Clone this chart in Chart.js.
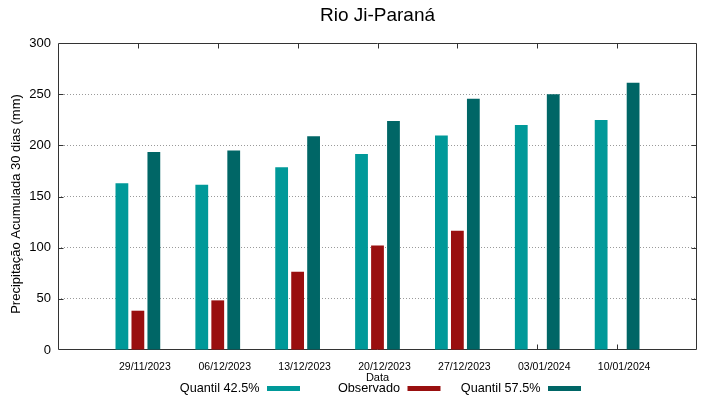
<!DOCTYPE html>
<html>
<head>
<meta charset="utf-8">
<script src="https://cdn.jsdelivr.net/npm/chart.js@4.4.1/dist/chart.umd.min.js"></script>
<style>
html,body{margin:0;padding:0;background:#fff;}
#wrap{width:719px;height:399px;position:relative;}
</style>
</head>
<body>
<div id="wrap"><canvas id="c" width="719" height="399"></canvas></div>
<script>
// ---- data ----
const chartTitle = 'Rio Ji-Paraná';
const yAxisTitle = 'Precipitação Acumulada 30 dias (mm)';
const xAxisTitle = 'Data';
const categories = ['29/11/2023', '06/12/2023', '13/12/2023', '20/12/2023', '27/12/2023', '03/01/2024', '10/01/2024'];
const seriesNames = ['Quantil 42.5%', 'Observado', 'Quantil 57.5%'];
const quantil425 = [163, 161.4, 178.6, 191.6, 209.5, 219.9, 224.8];
const observado = [38.4, 48.5, 76.4, 102.1, 116.5, null, null];
const quantil575 = [193.6, 194.9, 208.8, 223.8, 245.6, 249.8, 261.2];
const yTickValues = [0, 50, 100, 150, 200, 250, 300];
const seriesColors = ['#009999', '#990f0f', '#006666'];

// ---- styling ----
const FONT = "'Liberation Sans', Arial, sans-serif";
const FRAME = '#333333';

// padded category list so the 7 dates sit at positions 1..7 of an 8-unit-wide axis
const labels = [''].concat(categories, ['']);
const pad = arr => [null].concat(arr, [null]);
const allSeries = [quantil425, observado, quantil575];

const frameAndTicks = {
  id: 'frameAndTicks',
  beforeDatasetsDraw(chart) {
    const {ctx, chartArea, scales} = chart;
    const L = Math.round(chartArea.left) + 0.5, R = Math.round(chartArea.right) - 0.5;
    const T = Math.round(chartArea.top) + 0.5, B = Math.round(chartArea.bottom) - 0.5;
    ctx.save();
    ctx.strokeStyle = FRAME;
    ctx.lineWidth = 1;
    ctx.beginPath();
    ctx.rect(L, T, R - L, B - T);
    ctx.stroke();
    const tl = 5;
    ctx.beginPath();
    scales.y.ticks.forEach(t => {
      if (t.value <= scales.y.min || t.value >= scales.y.max) return;
      const py = Math.round(scales.y.getPixelForValue(t.value)) + 0.5;
      ctx.moveTo(L, py); ctx.lineTo(L + tl, py);
      ctx.moveTo(R, py); ctx.lineTo(R - tl, py);
    });
    scales.x.ticks.forEach((t, i) => {
      if (labels[i] === '') return;
      const px = Math.round(scales.x.getPixelForTick(i)) + 0.5;
      ctx.moveTo(px, T); ctx.lineTo(px, T + tl);
      ctx.moveTo(px, B); ctx.lineTo(px, B - tl);
    });
    ctx.stroke();
    ctx.restore();
  },
  afterDraw(chart) {
    const {ctx, chartArea} = chart;
    ctx.save();
    // y axis title
    ctx.fillStyle = '#000';
    ctx.font = '13px ' + FONT;
    ctx.textAlign = 'center';
    ctx.textBaseline = 'middle';
    ctx.translate(16, (chartArea.top + chartArea.bottom) / 2 + 7.5);
    ctx.rotate(-Math.PI / 2);
    ctx.fillText(yAxisTitle, 0, 0);
    ctx.restore();
    // legend (text followed by a line sample, gnuplot style)
    ctx.save();
    ctx.font = '12.7px ' + FONT;
    ctx.textAlign = 'right';
    ctx.textBaseline = 'middle';
    const textRight = [259.5, 400, 540.5];
    const ly = 388;
    seriesNames.forEach((name, i) => {
      ctx.fillStyle = '#000';
      ctx.fillText(name, textRight[i], ly);
      ctx.fillStyle = seriesColors[i];
      ctx.fillRect(textRight[i] + 7.5, ly - 2, 33, 5);
    });
    ctx.restore();
  }
};

new Chart(document.getElementById('c'), {
  type: 'bar',
  data: {
    labels: labels,
    datasets: allSeries.map((s, i) => ({
      label: seriesNames[i],
      data: pad(s),
      backgroundColor: seriesColors[i],
      borderWidth: 0,
      categoryPercentage: 0.6,
      barPercentage: 0.8
    }))
  },
  options: {
    responsive: false,
    animation: false,
    devicePixelRatio: 1,
    layout: { padding: { left: 0, right: 22, top: 0, bottom: 0 } },
    plugins: {
      legend: { display: false },
      tooltip: { enabled: false },
      title: {
        display: true,
        text: chartTitle,
        fullSize: false,
        color: '#000',
        font: { family: FONT, size: 19, weight: 'normal' },
        padding: { top: 4, bottom: 16.2 }
      }
    },
    scales: {
      x: {
        type: 'category',
        offset: false,
        afterFit: s => { s.height = 49; },
        grid: { display: false, drawTicks: false },
        border: { display: false },
        ticks: {
          autoSkip: false, maxRotation: 0, minRotation: 0,
          labelOffset: 7, padding: 10.5,
          color: '#000',
          font: { family: FONT, size: 10.5 }
        },
        title: {
          display: true, text: xAxisTitle, color: '#000',
          font: { family: FONT, size: 11 },
          padding: { top: 0, bottom: 14.5 }
        }
      },
      y: {
        min: 0, max: 300,
        afterBuildTicks: s => { s.ticks = yTickValues.map(v => ({ value: v })); },
        afterFit: s => { s.width = 58; },
        grid: {
          drawTicks: false,
          color: c => (c.tick && (c.tick.value === 0 || c.tick.value === 300)) ? 'rgba(0,0,0,0)' : '#9a9a9a',
          lineWidth: 1
        },
        border: { display: false, dash: [1, 2] },
        ticks: {
          padding: 7,
          color: '#000',
          font: { family: FONT, size: 13 }
        }
      }
    }
  },
  plugins: [frameAndTicks]
});
</script>
</body>
</html>
